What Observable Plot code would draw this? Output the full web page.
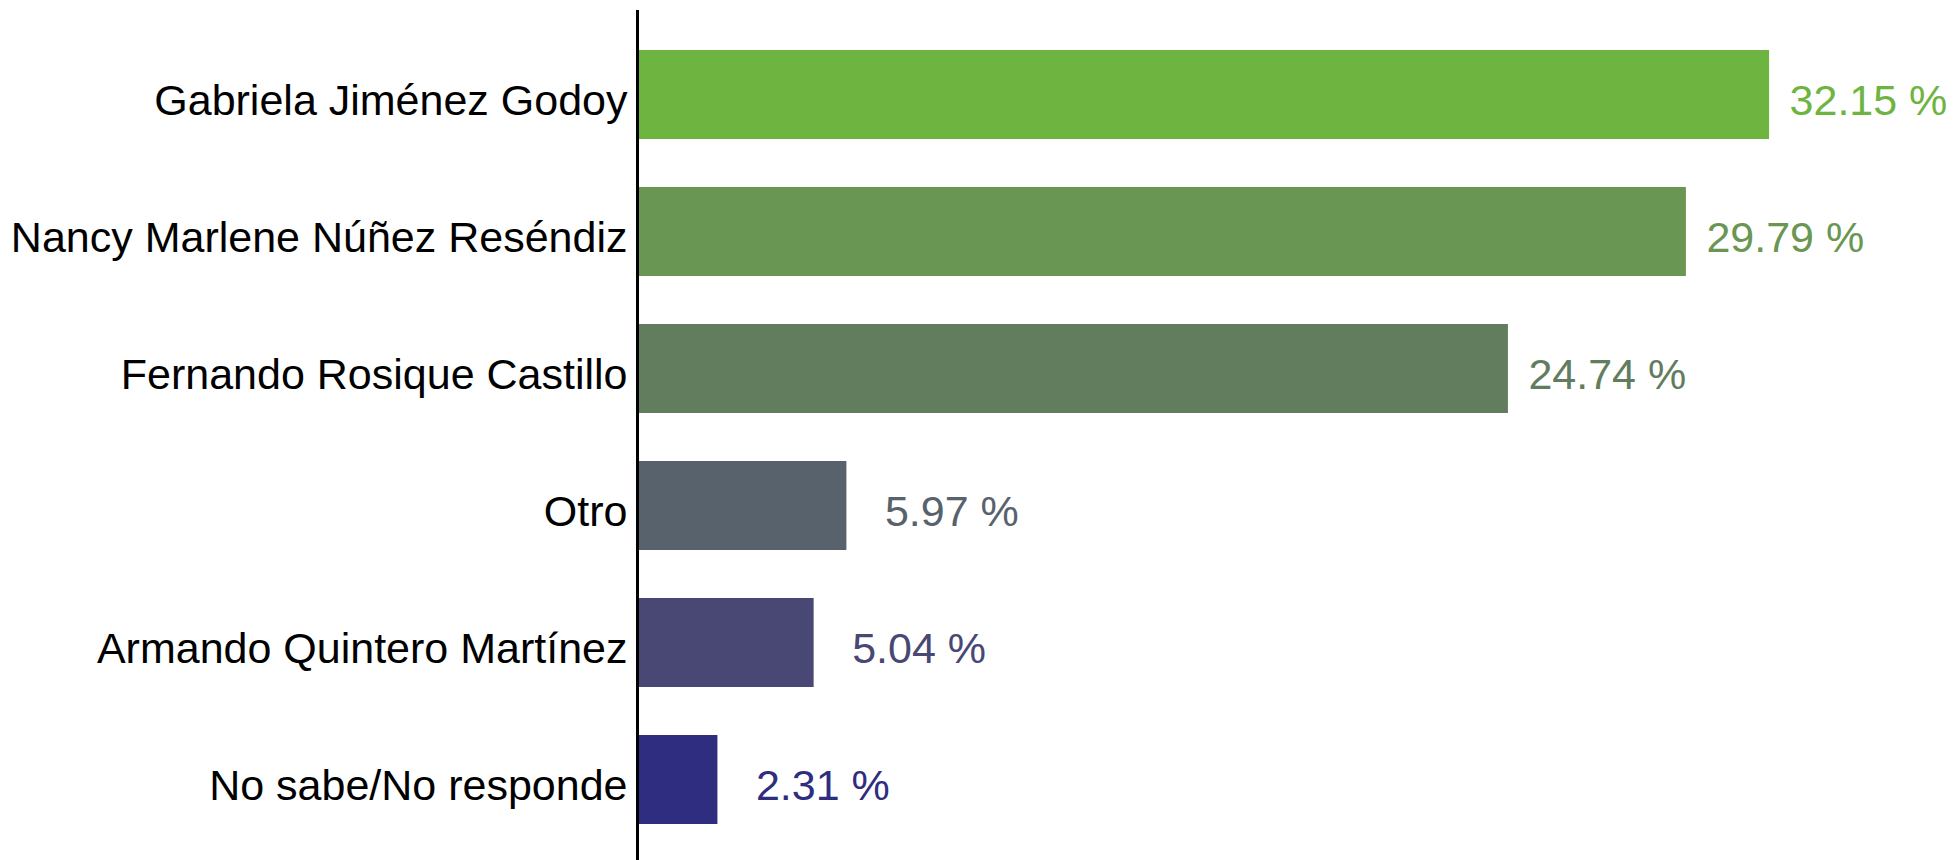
<!DOCTYPE html>
<html>
<head>
<meta charset="utf-8">
<script src="https://cdn.jsdelivr.net/npm/d3@7"></script>
<script src="https://cdn.jsdelivr.net/npm/@observablehq/plot@0.6"></script>
<style>
  html, body { margin: 0; padding: 0; background: #ffffff; }
  #chart svg { display: block; }
</style>
</head>
<body>
<div id="chart"></div>
<script>
const categories = [
  "Gabriela Jiménez Godoy",
  "Nancy Marlene Núñez Reséndiz",
  "Fernando Rosique Castillo",
  "Otro",
  "Armando Quintero Martínez",
  "No sabe/No responde"
];
const values = [32.15, 29.79, 24.74, 5.97, 5.04, 2.31];
const colors = ["#6eb441", "#6a9653", "#627d5e", "#58626c", "#494774", "#2e2d80"];

const data = categories.map((c, i) => ({name: c, value: values[i], color: colors[i]}));
const big = data.filter(d => d.value >= 10);
const small = data.filter(d => d.value < 10);

const fmt = d => d.value.toFixed(2) + " %";

const chart = Plot.plot({
  width: 1957,
  height: 860,
  marginLeft: 636,
  marginRight: 17,
  marginTop: 10,
  marginBottom: 0,
  style: {fontFamily: "'Liberation Sans', Arial, sans-serif", background: "#ffffff"},
  x: {domain: [0, 37], axis: null},
  y: {domain: categories, padding: 0.35, paddingOuter: 0.175, insetTop: 16, insetBottom: 12, label: null},
  marks: [
    Plot.barX(data, {y: "name", x: "value", fill: "color"}),
    Plot.text(big, {
      y: "name", x: "value", text: fmt,
      fill: "color", textAnchor: "start", dx: 20, dy: 6, fontSize: 43
    }),
    Plot.text(small, {
      y: "name", x: "value", text: fmt,
      fill: "color", textAnchor: "start", dx: 38, dy: 6, fontSize: 43
    }),
    Plot.axisY({tickSize: 0, tickPadding: 9, fontSize: 43, dy: 6, fill: "#000000", label: null}),
    Plot.ruleX([0], {stroke: "#000000", strokeWidth: 3, dx: 1})
  ]
});
document.getElementById("chart").appendChild(chart);
</script>
</body>
</html>
